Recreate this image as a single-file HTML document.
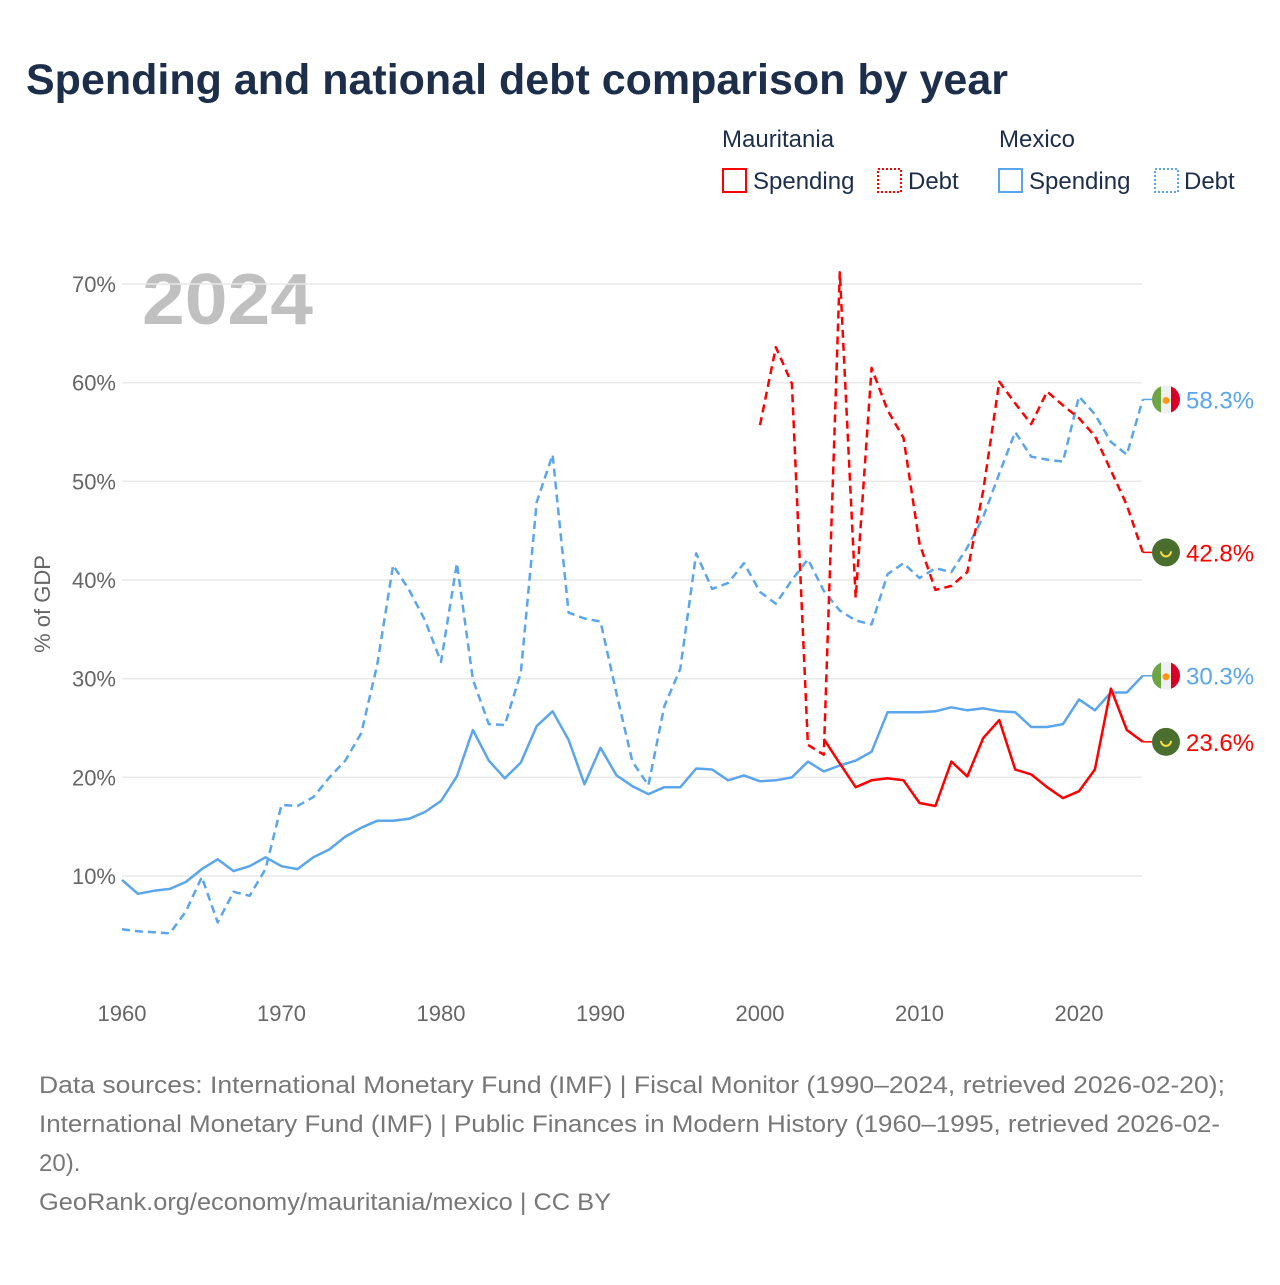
<!DOCTYPE html>
<html><head><meta charset="utf-8"><style>
body{margin:0;background:#fff;font-family:"Liberation Sans",sans-serif;}
svg text{font-family:"Liberation Sans",sans-serif;}
</style></head><body>
<svg id="chart" width="1280" height="1280" viewBox="0 0 1280 1280">
<defs>
<clipPath id="c1"><circle cx="1166" cy="0" r="14"/></clipPath>
</defs>
<text x="26" y="94" font-size="43" font-weight="bold" fill="#1c2e4a">Spending and national debt comparison by year</text>
<g>
<text x="722" y="147" font-size="24" fill="#1c2e4a">Mauritania</text>
<text x="999" y="147" font-size="24" fill="#1c2e4a">Mexico</text>
<rect x="723" y="169" width="23" height="23" fill="none" stroke="#f00" stroke-width="2"/>
<text x="753" y="189" font-size="24" fill="#1c2e4a">Spending</text>
<rect x="878" y="169" width="23" height="23" fill="none" stroke="#f00" stroke-width="2" stroke-dasharray="2 2"/>
<text x="908" y="189" font-size="24" fill="#1c2e4a">Debt</text>
<rect x="999" y="169" width="23" height="23" fill="none" stroke="#5aa5ec" stroke-width="2"/>
<text x="1029" y="189" font-size="24" fill="#1c2e4a">Spending</text>
<rect x="1155" y="169" width="23" height="23" fill="none" stroke="#5aa5ec" stroke-width="2" stroke-dasharray="2 2"/>
<text x="1184" y="189" font-size="24" fill="#1c2e4a">Debt</text>
</g>
<text x="142" y="324" font-size="72" font-weight="bold" fill="#c0c0c0" textLength="171" lengthAdjust="spacingAndGlyphs">2024</text>
<text transform="translate(50,604) rotate(-90)" text-anchor="middle" font-size="22" fill="#666">% of GDP</text>
<g id="grid"></g><g id="lines"></g><g id="ends"></g>
<g font-size="24" fill="#777">
<text x="39" y="1093" textLength="1186" lengthAdjust="spacingAndGlyphs">Data sources: International Monetary Fund (IMF) | Fiscal Monitor (1990–2024, retrieved 2026-02-20);</text>
<text x="39" y="1132" textLength="1181" lengthAdjust="spacingAndGlyphs">International Monetary Fund (IMF) | Public Finances in Modern History (1960–1995, retrieved 2026-02-</text>
<text x="39" y="1171">20).</text>
<text x="39" y="1210" textLength="572" lengthAdjust="spacingAndGlyphs">GeoRank.org/economy/mauritania/mexico | CC BY</text>
</g>
</svg>
<script>
const yTicks=[10,20,30,40,50,60,70];
const xTicks=[1960,1970,1980,1990,2000,2010,2020];
const mexYears0=1960;
const mexSpending=[9.6,8.2,8.5,8.7,9.4,10.7,11.7,10.5,11.0,11.9,11.0,10.7,11.9,12.7,14.0,14.9,15.6,15.6,15.8,16.5,17.6,20.1,24.8,21.7,19.9,21.5,25.2,26.7,23.8,19.3,23.0,20.2,19.1,18.3,19.0,19.0,20.9,20.8,19.7,20.2,19.6,19.7,20.0,21.6,20.6,21.2,21.7,22.6,26.6,26.6,26.6,26.7,27.1,26.8,27.0,26.7,26.6,25.1,25.1,25.4,27.9,26.8,28.6,28.6,30.3];
const mexDebt=[4.6,4.4,4.3,4.2,6.4,9.9,5.3,8.4,8.0,10.7,17.2,17.1,18.0,20.0,21.7,24.5,31.4,41.5,39.0,35.9,31.7,41.7,29.9,25.4,25.3,30.6,47.9,52.7,36.7,36.1,35.8,28.5,21.6,19.2,27.2,31.0,42.7,39.1,39.7,41.7,38.8,37.6,40.0,42.1,38.9,36.9,35.9,35.5,40.6,41.7,40.2,41.2,40.8,43.3,46.4,50.8,55.0,52.5,52.2,52.0,58.6,56.8,54.0,52.7,58.3];
const mrtDebtStart=2000;
const mrtDebt=[55.7,63.6,59.9,23.3,22.3,71.2,38.2,61.5,57.2,54.4,43.7,39.0,39.4,40.8,49.1,60.1,57.9,55.8,59.1,57.7,56.4,54.6,51.1,47.6,42.8];
const mrtSpendStart=2004;
const mrtSpending=[23.9,21.4,19.0,19.7,19.9,19.7,17.4,17.1,21.6,20.1,24.0,25.8,20.8,20.3,19.0,17.9,18.6,20.8,29.0,24.8,23.6];

const NS="http://www.w3.org/2000/svg";
const X=y=>122+(y-1960)*15.95;
const Y=v=>974.7-v*9.867;
function mk(tag,attrs,parent){const e=document.createElementNS(NS,tag);for(const k in attrs)e.setAttribute(k,attrs[k]);parent.appendChild(e);return e;}
const grid=document.getElementById('grid'),lines=document.getElementById('lines'),ends=document.getElementById('ends');
yTicks.forEach(t=>{
 const l=mk('line',{x1:122,x2:1142,y1:Y(t),y2:Y(t),stroke:'#e8e8e8','stroke-width':1.5},grid);
 
 
 const tx=mk('text',{x:116,y:Y(t)+8,'text-anchor':'end','font-size':22,fill:'#666'},grid);
 tx.textContent=t+'%';
 
 
});
xTicks.forEach(t=>{
 const tx=mk('text',{x:X(t),y:1021,'text-anchor':'middle','font-size':22,fill:'#666'},grid);
 tx.textContent=t;
 
 
});
function series(vals,start,color,dash,name){
 const pts=vals.map((v,i)=>X(start+i).toFixed(1)+','+Y(v).toFixed(1)).join(' ');
 const p=mk('polyline',{points:pts,fill:'none',stroke:color,'stroke-width':2.5,'stroke-linejoin':'round'},lines);
 if(dash)p.setAttribute('stroke-dasharray','8 5');
 
 
 return p;
}
series(mexDebt,mexYears0,'#5aa5ec',true,'mexico-debt-line');
series(mexSpending,mexYears0,'#5aa5ec',false,'mexico-spending-line');
series(mrtDebt,mrtDebtStart,'#ff0000',true,'mauritania-debt-line');
series(mrtSpending,mrtSpendStart,'#ff0000',false,'mauritania-spending-line');
function endLabel(v,color,flag,name){
 const y=Y(v);
 const g=mk('g',{},ends);
 
 
 mk('line',{x1:X(2024),x2:1152,y1:y,y2:y,stroke:color,'stroke-width':1.5},g);
 if(flag==='mx'){
  const f=mk('g',{transform:`translate(0,${y})`,'clip-path':'url(#c1)'},g);
  mk('rect',{x:1152,y:-14,width:28,height:28,fill:'#f0f0f0'},f);
  mk('rect',{x:1152,y:-14,width:9,height:28,fill:'#6da544'},f);
  mk('rect',{x:1171,y:-14,width:9,height:28,fill:'#d80027'},f);
  mk('circle',{cx:1166,cy:1,r:3.5,fill:'#ff9811'},f);
 }else{
  mk('circle',{cx:1166,cy:y,r:14,fill:'#496e2d'},g);
  mk('path',{d:`M1161 ${y-1} A5 5 0 0 0 1171 ${y-1}`,fill:'none',stroke:'#ffda44','stroke-width':2},g);
 }
 const t=mk('text',{x:1186,y:y+9,'font-size':24,fill:color},g);
 t.textContent=v.toFixed(1)+'%';
}
endLabel(mexDebt[mexDebt.length-1],'#5aa5ec','mx','end-label-mexico-debt');
endLabel(mrtDebt[mrtDebt.length-1],'#ff0000','mr','end-label-mauritania-debt');
endLabel(mexSpending[mexSpending.length-1],'#5aa5ec','mx','end-label-mexico-spending');
endLabel(mrtSpending[mrtSpending.length-1],'#ff0000','mr','end-label-mauritania-spending');
</script>
</body></html>
